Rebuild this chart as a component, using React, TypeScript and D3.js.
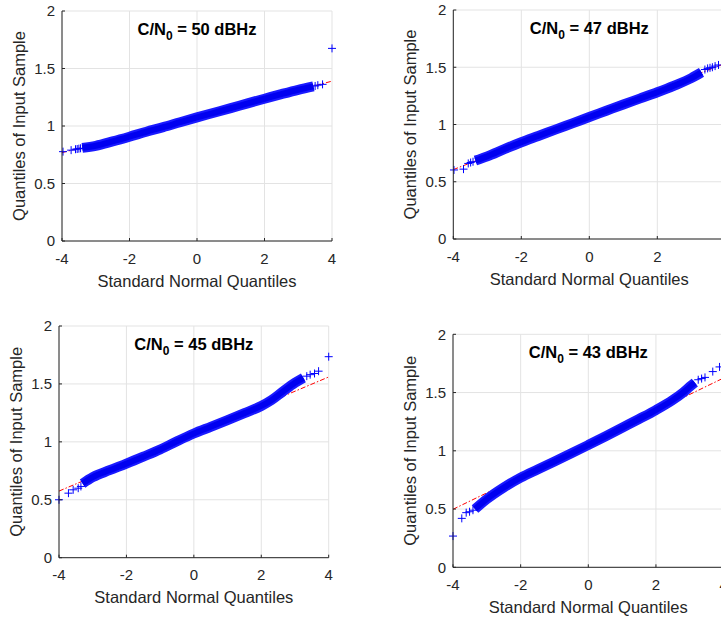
import React from "react";
import * as d3 from "d3";

type Pt = [number, number];

const xTicks = [-4, -2, 0, 2, 4];
const xTickLabels = ["-4", "-2", "0", "2", "4"];
const yTicks = [0, 0.5, 1, 1.5, 2];
const yTickLabels = ["0", "0.5", "1", "1.5", "2"];
const cnoLabels = ["50", "47", "45", "43"];
const xLabel = "Standard Normal Quantiles";
const yLabel = "Quantiles of Input Sample";

// dense central quantiles
const band50: Pt[] = [[-3.4, 0.81], [-3.0, 0.828], [-2.5, 0.866], [-2.0, 0.907], [-1.5, 0.95], [-1.0, 0.99], [-0.5, 1.033], [0, 1.075], [0.5, 1.115], [1.0, 1.155], [1.5, 1.197], [2.0, 1.237], [2.5, 1.277], [3.0, 1.315], [3.45, 1.345]];
const tail50: Pt[] = [[-3.97, 0.777], [-3.73, 0.79], [-3.6, 0.798], [-3.55, 0.8], [-3.5, 0.803], [-3.45, 0.806], [3.5, 1.348], [3.58, 1.355], [3.72, 1.362], [4.0, 1.675]];
const ref50: Pt[] = [[-4, 0.768], [4, 1.39]];

const band47: Pt[] = [[-3.35, 0.685], [-3.0, 0.722], [-2.5, 0.785], [-2.0, 0.845], [-1.5, 0.9], [-1.0, 0.955], [-0.5, 1.01], [0, 1.065], [0.5, 1.12], [1.0, 1.175], [1.5, 1.228], [2.0, 1.282], [2.5, 1.34], [3.0, 1.405], [3.3, 1.455]];
const tail47: Pt[] = [[-3.98, 0.603], [-3.7, 0.61], [-3.56, 0.66], [-3.49, 0.668], [-3.42, 0.675], [3.4, 1.48], [3.48, 1.49], [3.55, 1.495], [3.62, 1.5], [3.7, 1.51], [3.8, 1.52]];
const ref47: Pt[] = [[-4, 0.606], [4, 1.534]];

const band45: Pt[] = [[-3.3, 0.64], [-3.0, 0.695], [-2.5, 0.755], [-2.0, 0.812], [-1.5, 0.872], [-1.0, 0.934], [-0.5, 1.005], [0, 1.072], [0.5, 1.13], [1.0, 1.188], [1.5, 1.248], [2.0, 1.31], [2.3, 1.36], [2.6, 1.425], [3.0, 1.51], [3.25, 1.553]];
const tail45: Pt[] = [[-4.0, 0.5], [-3.72, 0.557], [-3.58, 0.586], [-3.43, 0.6], [-3.35, 0.615], [3.35, 1.567], [3.45, 1.58], [3.58, 1.59], [3.7, 1.61], [4.0, 1.735]];
const ref45: Pt[] = [[-4, 0.575], [4, 1.56]];

const band43: Pt[] = [[-3.35, 0.5], [-3.0, 0.585], [-2.5, 0.685], [-2.0, 0.77], [-1.5, 0.84], [-1.0, 0.908], [-0.5, 0.978], [0, 1.05], [0.5, 1.123], [1.0, 1.198], [1.5, 1.273], [2.0, 1.35], [2.5, 1.437], [2.8, 1.5], [3.0, 1.55], [3.15, 1.585]];
const tail43: Pt[] = [[-4.0, 0.268], [-3.74, 0.42], [-3.61, 0.469], [-3.51, 0.477], [-3.41, 0.49], [3.25, 1.61], [3.35, 1.62], [3.45, 1.63], [3.68, 1.68], [3.88, 1.72]];
const ref43: Pt[] = [[-4, 0.498], [4, 1.625]];

const panels = [
  { band: band50, tail: tail50, ref: ref50, cno: cnoLabels[0], box: { l: 62, r: 332, t: 11, b: 241 } },
  { band: band47, tail: tail47, ref: ref47, cno: cnoLabels[1], box: { l: 453.3, r: 725.3, t: 10, b: 239 } },
  { band: band45, tail: tail45, ref: ref45, cno: cnoLabels[2], box: { l: 59, r: 328.7, t: 326, b: 557.7 } },
  { band: band43, tail: tail43, ref: ref43, cno: cnoLabels[3], box: { l: 453, r: 723.6, t: 334.3, b: 567.3 } },
];

const FONT = "'Liberation Sans', Arial, Helvetica, sans-serif";
const AXC = "#262626";
const GRID = "#e3e3e3";
const BLUE = "#0000ff";

function Plus({ x, y }: { x: number; y: number }) {
  const s = 4;
  return (
    <path d={`M${x - s},${y}H${x + s}M${x},${y - s}V${y + s}`} stroke={BLUE} strokeWidth={1} fill="none" />
  );
}

function Panel({ p }: { p: (typeof panels)[number] }) {
  const { l, r, t, b } = p.box;
  const x = d3.scaleLinear().domain([-4, 4]).range([l, r]);
  const y = d3.scaleLinear().domain([0, 2]).range([b, t]);
  const line = d3.line<Pt>().x((d) => x(d[0])).y((d) => y(d[1]));
  const smooth = d3.line<Pt>().x((d) => x(d[0])).y((d) => y(d[1])).curve(d3.curveMonotoneX);
  return (
    <g>
      {/* grid */}
      {xTicks.map((v) => (
        <line key={"gx" + v} x1={x(v)} x2={x(v)} y1={t} y2={b} stroke={GRID} strokeWidth={1} />
      ))}
      {yTicks.map((v) => (
        <line key={"gy" + v} x1={l} x2={r} y1={y(v)} y2={y(v)} stroke={GRID} strokeWidth={1} />
      ))}
      {/* reference line */}
      <path d={line(p.ref) || ""} stroke="#ff0000" strokeWidth={1} fill="none" strokeDasharray="5,2,1.5,2" />
      {/* dense band of overlapping markers */}
      <path d={smooth(p.band) || ""} stroke="#1a1aff" strokeWidth={10} fill="none" strokeLinecap="butt" strokeLinejoin="round" />
      <path d={smooth(p.band) || ""} stroke="#0000f0" strokeWidth={6} fill="none" strokeLinecap="butt" strokeLinejoin="round" />
      {p.tail.map((d, i) => (
        <Plus key={i} x={x(d[0])} y={y(d[1])} />
      ))}
      {/* axes */}
      <line x1={l} x2={r} y1={b} y2={b} stroke={AXC} strokeWidth={1} />
      <line x1={l} x2={l} y1={t} y2={b} stroke={AXC} strokeWidth={1} />
      {xTicks.map((v, i) => (
        <g key={"tx" + v}>
          <line x1={x(v)} x2={x(v)} y1={b} y2={b - 3} stroke={AXC} />
          <text x={x(v)} y={b + 22.5} textAnchor="middle" fontSize={15} fill={AXC} fontFamily={FONT}>
            {xTickLabels[i]}
          </text>
        </g>
      ))}
      {yTicks.map((v, i) => (
        <g key={"ty" + v}>
          <line x1={l} x2={l + 3} y1={y(v)} y2={y(v)} stroke={AXC} />
          <text x={l - 7} y={y(v) + 5.3} textAnchor="end" fontSize={15} fill={AXC} fontFamily={FONT}>
            {yTickLabels[i]}
          </text>
        </g>
      ))}
      <text x={x(0)} y={b + 45.5} textAnchor="middle" fontSize={16.5} fill={AXC} fontFamily={FONT}>
        {xLabel}
      </text>
      <text
        transform={`translate(${l - 37},${(t + b) / 2}) rotate(-90)`}
        textAnchor="middle"
        fontSize={16.5}
        fill={AXC}
        fontFamily={FONT}
      >
        {yLabel}
      </text>
      <text x={x(0)} y={t + 23.5} textAnchor="middle" fontSize={16.5} fontWeight="bold" fill="#000" fontFamily={FONT}>
        C/N
        <tspan fontSize={12} dy={5}>0</tspan>
        <tspan dy={-5}>{` = ${p.cno} dBHz`}</tspan>
      </text>
    </g>
  );
}

export default function App() {
  return (
    <svg
      width={721}
      height={621}
      style={{ position: "absolute", left: 0, top: 0, background: "#fff" }}
    >
      <rect x={0} y={0} width={721} height={621} fill="#fff" />
      {panels.map((p, i) => (
        <Panel key={i} p={p} />
      ))}
    </svg>
  );
}
